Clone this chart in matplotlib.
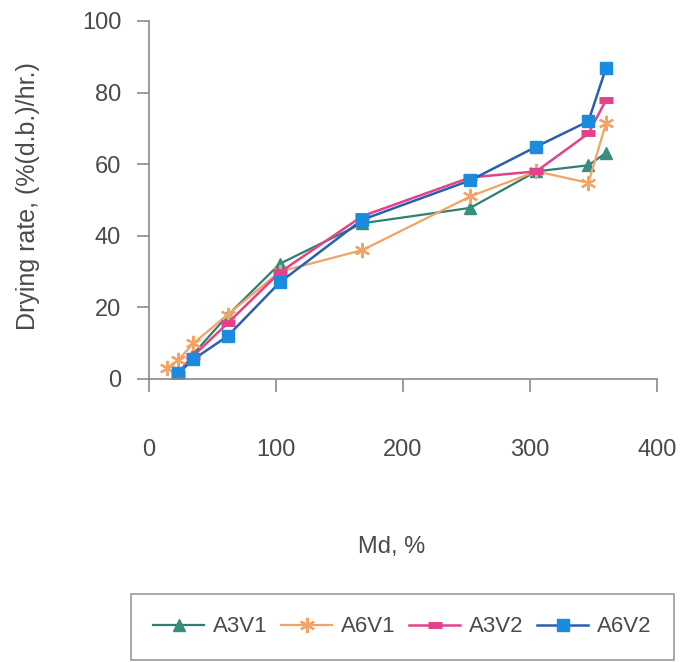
import matplotlib
matplotlib.use("Agg")
import matplotlib.pyplot as plt

plt.rcParams['font.family'] = ['Liberation Sans', 'DejaVu Sans']

# Moisture content (dry basis, %) and drying rate for each run
md_a3v1 = [23, 35, 62, 103, 168, 253, 305, 346, 360]
rate_a3v1 = [1.5, 7.0, 17.8, 32.2, 43.5, 47.8, 58.0, 59.7, 63.2]

md_a6v1 = [14, 23, 35, 62, 103, 168, 253, 305, 346, 360]
rate_a6v1 = [3.0, 5.3, 10.0, 18.0, 30.0, 36.0, 51.0, 58.0, 54.8, 71.6]

md_a3v2 = [23, 35, 62, 103, 168, 253, 305, 346, 360]
rate_a3v2 = [1.5, 6.5, 15.6, 29.8, 45.5, 56.3, 58.0, 68.6, 78.0]

md_a6v2 = [23, 35, 62, 103, 168, 253, 305, 346, 360]
rate_a6v2 = [1.6, 5.5, 12.0, 27.0, 44.5, 55.5, 64.9, 72.0, 87.0]

xticks = [0, 100, 200, 300, 400]
yticks = [0, 20, 40, 60, 80, 100]

text_col = '#4a4a4a'
axis_col = '#8a8a8a'

fig = plt.figure(figsize=(6.82, 6.62), dpi=100)
ax = fig.add_axes([149 / 682, 1 - 379 / 662, 508 / 682, 358 / 662])

ax.plot(md_a3v1, rate_a3v1, color='#2f7f72', lw=1.6, marker='^', ms=9,
        mfc='#3a8c7e', mec='#3a8c7e', label='A3V1')
ax.plot(md_a6v1, rate_a6v1, color='#f2a366', lw=1.6, marker=(6, 2, 0), ms=11,
        mec='#f2a366', mew=1.6, label='A6V1')
ax.plot(md_a3v2, rate_a3v2, color='#e4418a', lw=1.8, marker='_', ms=10,
        mec='#e4418a', mew=5, label='A3V2')
ax.plot(md_a6v2, rate_a6v2, color='#2a5fb0', lw=1.8, marker='s', ms=9,
        mfc='#1b8be0', mec='#1b8be0', label='A6V2')

ax.set_xlim(0, 400)
ax.set_ylim(0, 100)
ax.set_xticks(xticks)
ax.set_yticks(yticks)

for side in ['top', 'right']:
    ax.spines[side].set_visible(False)
for side in ['left', 'bottom']:
    ax.spines[side].set_color(axis_col)
    ax.spines[side].set_linewidth(1.2)

ax.tick_params(axis='both', direction='out', length=9, width=1.2,
               color=axis_col, labelcolor=text_col, labelsize=17)
ax.tick_params(axis='x', pad=34)
ax.tick_params(axis='y', pad=11)

ax.set_xlabel('Md, %', fontsize=17, color=text_col, va='center')
ax.xaxis.set_label_coords(0.478, -0.469)
ax.set_ylabel('Drying rate, (%(d.b.)/hr.)', fontsize=18, color=text_col, va='center')
ax.yaxis.set_label_coords(-0.238, 0.51)

leg = fig.legend(loc='center', ncol=4, bbox_to_anchor=(402.5 / 682, 1 - 627 / 662),
                 fontsize=16, handlelength=2.3, handletextpad=0.4,
                 columnspacing=0.6, borderpad=1.0, fancybox=False,
                 edgecolor='#9a9a9a', framealpha=1)
leg.get_frame().set_linewidth(1.2)
for t in leg.get_texts():
    t.set_color(text_col)

fig.savefig('out.png', dpi=100)
